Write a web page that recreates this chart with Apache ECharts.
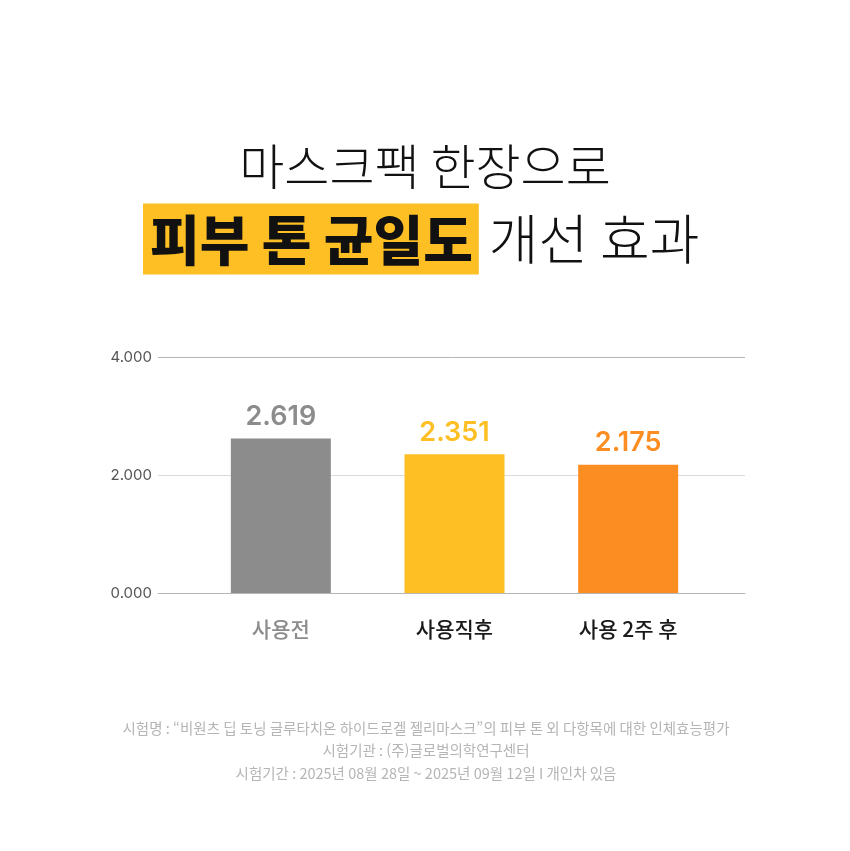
<!DOCTYPE html>
<html lang="ko">
<head>
    <meta charset="UTF-8">
    <title>피부 톤 균일도 개선 효과</title>
    <style>
        html, body { margin: 0; padding: 0; background: #fff; }
        #chart { width: 850px; height: 851px; }
    </style>
</head>
<body>
    <div id="chart"></div>
    <script src="https://cdn.jsdelivr.net/npm/echarts@6/dist/echarts.min.js"></script>
    <script>
        // 데이터
        var categories = ['사용전', '사용직후', '사용 2주 후'];
        var values = [2.619, 2.351, 2.175];
        var barColors = ['#8c8c8c', '#fdbf24', '#fc8d22'];
        var catColors = ['#8c8c8c', '#1a1a1a', '#1a1a1a'];
        var yTicks = [0, 2, 4];
        var notes = [
            '시험명 : “비원츠 딥 토닝 글루타치온 하이드로겔 젤리마스크”의 피부 톤 외 다항목에 대한 인체효능평가',
            '시험기관 : (주)글로벌의학연구센터',
            '시험기간 : 2025년 08월 28일 ~ 2025년 09월 12일 I 개인차 있음'
        ];

        var CJK = '"Noto Sans CJK KR", "Noto Sans", sans-serif';
        var NUM = 'Inter, "Noto Sans CJK KR", sans-serif';

        var chart = echarts.init(document.getElementById('chart'));

        var option = {
            backgroundColor: '#ffffff',
            animation: false,
            title: [
                {
                    text: '마스크팩 한장으로',
                    left: 'center',
                    top: 137,
                    textStyle: { fontFamily: CJK, fontSize: 49, fontWeight: 300, color: '#111' }
                },
                {
                    text: '{hl|피부 톤 균일도}{sp|}{n|개선 효과}',
                    left: 143,
                    top: 214,
                    padding: 0,
                    textStyle: {
                        rich: {
                            hl: {
                                fontFamily: CJK, fontSize: 54, fontWeight: 800, color: '#111',
                                backgroundColor: '#fdbf24', padding: [10, 6, 7, 7], lineHeight: 50
                            },
                            sp: { width: 10 },
                            n: { fontFamily: CJK, fontSize: 54, fontWeight: 300, color: '#111', lineHeight: 50 }
                        }
                    }
                }
            ],
            graphic: notes.map(function (t, i) {
                return {
                    type: 'text',
                    x: 426,
                    y: 728 + i * 22.5,
                    style: {
                        text: t,
                        align: 'center',
                        verticalAlign: 'middle',
                        fontFamily: CJK,
                        fontSize: 14.5,
                        fill: '#b5b5b5'
                    }
                };
            }),
            // 격자선용 grid와 막대용 grid
            grid: [
                { left: 158, right: 105, top: 357, bottom: 258 },
                { left: 194, right: 135, top: 357, bottom: 258 }
            ],
            xAxis: [
                {
                    gridIndex: 0, type: 'category', data: categories,
                    axisLine: { show: true, lineStyle: { color: '#b5b5b5', width: 1 } },
                    axisTick: { show: false }, axisLabel: { show: false }
                },
                {
                    gridIndex: 1, type: 'category', data: categories,
                    axisLine: { show: false }, axisTick: { show: false },
                    axisLabel: {
                        margin: 26,
                        fontFamily: CJK, fontSize: 21, fontWeight: 500,
                        color: function (v, i) { return catColors[i]; }
                    }
                }
            ],
            yAxis: [
                {
                    gridIndex: 0, type: 'value', min: yTicks[0], max: yTicks[yTicks.length - 1], interval: 2,
                    axisLine: { show: false }, axisTick: { show: false },
                    axisLabel: {
                        margin: 6, fontFamily: NUM, fontSize: 15, color: '#555',
                        formatter: function (v) { return v.toFixed(3); }
                    },
                    splitLine: { show: true, lineStyle: { color: ['#b5b5b5', '#dadada', '#b5b5b5'], width: 1 } }
                },
                {
                    gridIndex: 1, type: 'value', min: yTicks[0], max: yTicks[yTicks.length - 1], interval: 2,
                    show: false, splitLine: { show: false }
                }
            ],
            series: [{
                type: 'bar',
                xAxisIndex: 1,
                yAxisIndex: 1,
                barWidth: 100,
                z: 3,
                data: values.map(function (v, i) {
                    return {
                        value: v,
                        itemStyle: { color: barColors[i] },
                        label: { color: barColors[i] }
                    };
                }),
                label: {
                    show: true,
                    position: 'top',
                    distance: 8,
                    fontFamily: NUM,
                    fontSize: 27,
                    fontWeight: 600,
                    formatter: function (p) { return p.value.toFixed(3); }
                }
            }]
        };

        chart.setOption(option);
    </script>
</body>
</html>
